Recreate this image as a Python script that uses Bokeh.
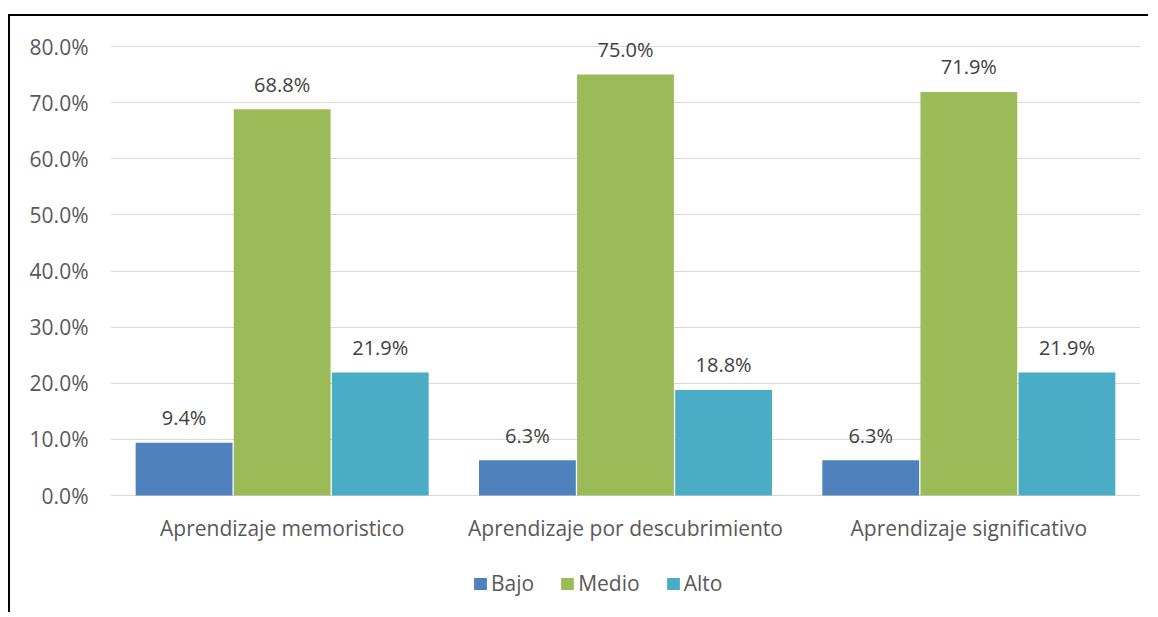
from bokeh.plotting import figure
from bokeh.models import ColumnDataSource, FixedTicker, NumeralTickFormatter, Legend, LegendItem, Range1d
from bokeh.transform import dodge
from bokeh.core.properties import value
from bokeh.embed import file_html
from bokeh.resources import INLINE

categories = ["Aprendizaje memoristico", "Aprendizaje por descubrimiento", "Aprendizaje significativo"]
series = ["Bajo", "Medio", "Alto"]
bajo = [0.094, 0.063, 0.063]
medio = [0.688, 0.750, 0.719]
alto = [0.219, 0.188, 0.219]
colors = ["#4F81BD", "#9BBB59", "#4BACC6"]
y_ticks = [0.0, 0.1, 0.2, 0.3, 0.4, 0.5, 0.6, 0.7, 0.8]

FONT = "Open Sans"
TXT = "#595959"

# layout (pixels)
W, H = 1140, 598
TOP, BOTTOM = 2, 2
PAD_TOP = 28          # pixels above the 80% gridline kept inside the frame
PLOT_H = 449          # pixels from 0% to 80%
FRAME_H = H - TOP - BOTTOM
y_top = 0.8
y_max = y_top + y_top * PAD_TOP / PLOT_H
y_min = y_max - y_top * FRAME_H / PLOT_H   # room below 0 for labels + legend

data = dict(cat=categories, Bajo=bajo, Medio=medio, Alto=alto)
for s in series:
    data[s + "_lbl"] = ["{:.1f}%".format(v * 100) for v in data[s]]
src = ColumnDataSource(data)

p = figure(x_range=categories, y_range=Range1d(y_min, y_max), width=W, height=H,
           output_backend="svg", toolbar_location=None,
           min_border_left=100, min_border_right=10, min_border_top=TOP, min_border_bottom=BOTTOM,
           styles={"border-top": "2px solid black", "border-left": "2px solid black",
                   "margin-top": "14px", "margin-left": "8px"})
p.outline_line_color = None
p.background_fill_color = "white"
p.border_fill_color = "white"

offsets = [-0.2857, 0.0, 0.2857]
items = []
for s, c, off in zip(series, colors, offsets):
    r = p.vbar(x=dodge("cat", off, range=p.x_range), top=s, bottom=0, width=0.282, source=src,
               fill_color=c, line_color=None)
    p.text(x=dodge("cat", off, range=p.x_range), y=s, text=s + "_lbl", source=src,
           text_align="center", text_baseline="alphabetic", y_offset=-25,
           text_font=value(FONT), text_font_size="20px", text_color="#404040")
    items.append(LegendItem(label=s, renderers=[r]))

p.yaxis.ticker = FixedTicker(ticks=y_ticks)
p.yaxis.formatter = NumeralTickFormatter(format="0.0%")
p.yaxis.axis_line_color = None
p.yaxis.major_tick_line_color = None
p.yaxis.minor_tick_line_color = None
p.yaxis.major_tick_out = 0
p.yaxis.major_tick_in = 0
p.yaxis.major_label_standoff = 22
p.yaxis.major_label_text_font = FONT
p.yaxis.major_label_text_font_size = "21px"
p.yaxis.major_label_text_color = TXT

p.xaxis.fixed_location = 0
p.xaxis.axis_line_color = None
p.xaxis.major_tick_line_color = None
p.xaxis.minor_tick_line_color = None
p.xaxis.major_tick_out = 0
p.xaxis.major_tick_in = 0
p.xaxis.major_label_standoff = 18
p.xaxis.major_label_text_font = FONT
p.xaxis.major_label_text_font_size = "21px"
p.xaxis.major_label_text_color = TXT

p.xgrid.grid_line_color = None
p.ygrid.grid_line_color = "#D9D9D9"
p.ygrid.grid_line_width = 1
p.ygrid.ticker = FixedTicker(ticks=y_ticks)

legend = Legend(items=items, orientation="horizontal", location=(362, 15),
                label_text_font=FONT, label_text_font_size="21px", label_text_color=TXT,
                glyph_width=16, glyph_height=15, label_standoff=3, spacing=25,
                padding=0, margin=0, border_line_color=None, background_fill_alpha=0)
p.add_layout(legend, "center")

open("out.html", "w").write(file_html(p, INLINE))
